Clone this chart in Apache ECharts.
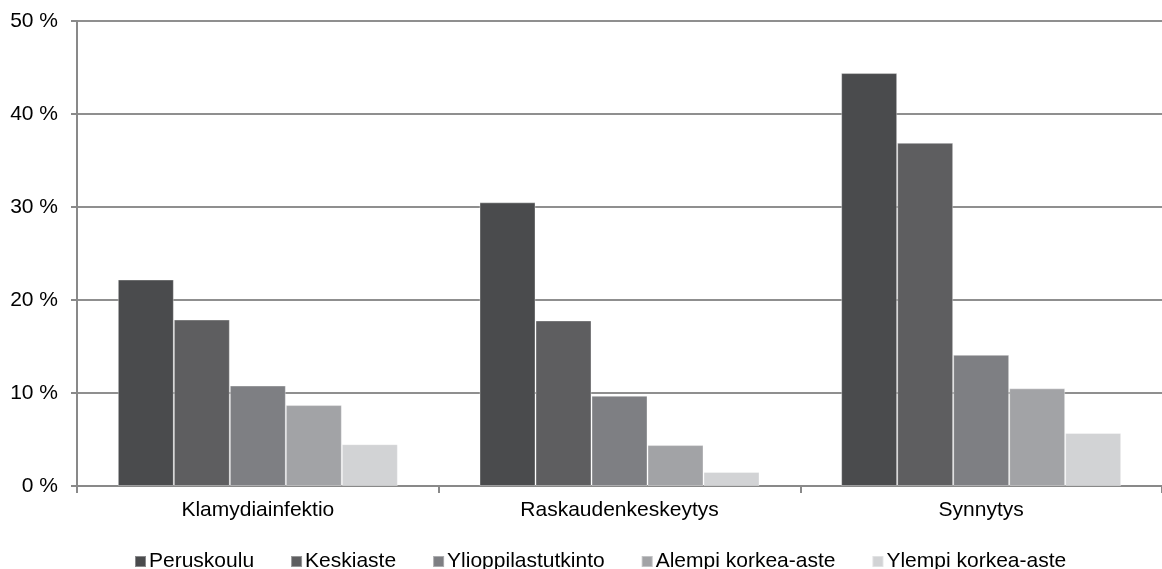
<!DOCTYPE html>
<html>
<head>
<meta charset="utf-8">
<script src="https://cdn.jsdelivr.net/npm/echarts@6/dist/echarts.min.js"></script>
<style>html,body{margin:0;padding:0;background:#fff;}#c{width:1162px;height:569px;}</style>
</head>
<body>
<div id="c"></div>
<script>
var categories = ['Klamydiainfektio', 'Raskaudenkeskeytys', 'Synnytys'];
var seriesNames = ['Peruskoulu', 'Keskiaste', 'Ylioppilastutkinto', 'Alempi korkea-aste', 'Ylempi korkea-aste'];
var peruskoulu = [22.2, 30.5, 44.4];
var keskiaste = [17.9, 17.8, 36.9];
var ylioppilastutkinto = [10.8, 9.7, 14.1];
var alempiKorkea = [8.7, 4.4, 10.5];
var ylempiKorkea = [4.5, 1.5, 5.7];
var colors = ['#4a4b4d', '#5e5e60', '#7e7f83', '#a2a3a6', '#d2d3d5'];
var yTicks = [0, 10, 20, 30, 40, 50];

var values = [peruskoulu, keskiaste, ylioppilastutkinto, alempiKorkea, ylempiKorkea];
var chart = echarts.init(document.getElementById('c'));
var font = 'Liberation Sans, Arial, sans-serif';
chart.setOption({
  animation: false,
  grid: { left: 77, right: -13, top: 21, bottom: 83, containLabel: false },
  legend: {
    top: 546, left: 129,
    itemWidth: 11, itemHeight: 11, itemGap: 36,
    icon: 'rect',
    textStyle: { fontFamily: font, fontSize: 21, color: '#000', padding: [0, 0, 0, -2] },
    data: seriesNames
  },
  xAxis: {
    type: 'category', data: categories,
    axisLine: { lineStyle: { color: '#898989', width: 2 } },
    axisTick: { show: true, length: 7, lineStyle: { color: '#898989', width: 2 } },
    axisLabel: { fontFamily: font, fontSize: 21, color: '#000', margin: 14 }
  },
  yAxis: {
    type: 'value', min: 0, max: 50, interval: 10,
    axisLine: { show: true, lineStyle: { color: '#898989', width: 2 } },
    axisTick: { show: true, length: 6, lineStyle: { color: '#898989', width: 2 } },
    splitLine: { lineStyle: { color: '#8f8f8f', width: 2 } },
    axisLabel: { fontFamily: font, fontSize: 21, color: '#000', margin: 19,
      formatter: function (v) { return yTicks.indexOf(v) >= 0 ? v + ' %' : ''; } }
  },
  series: seriesNames.map(function (n, i) {
    return {
      name: n, type: 'bar', data: values[i], barWidth: 56, barGap: '0%',
      itemStyle: { color: colors[i], borderColor: 'rgba(255,255,255,0.35)', borderWidth: 1 }
    };
  })
});
</script>
</body>
</html>
